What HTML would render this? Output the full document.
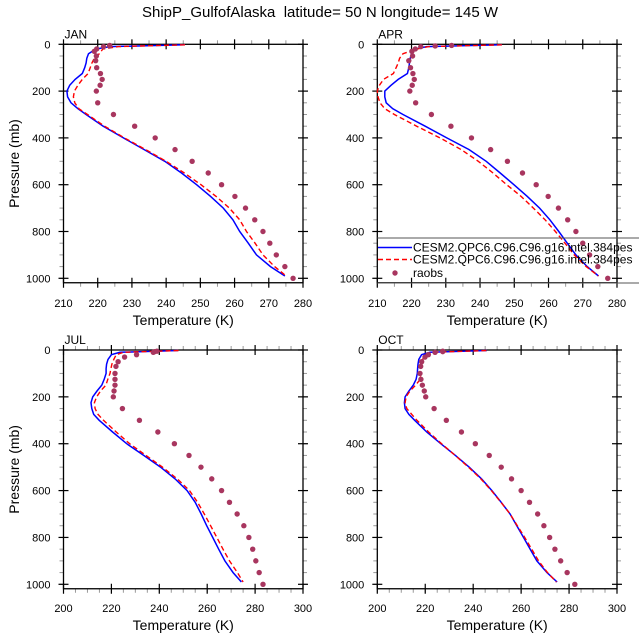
<!DOCTYPE html>
<html><head><meta charset="utf-8">
<style>
html,body{margin:0;padding:0;background:#fff;}
svg{display:block;font-family:"Liberation Sans",sans-serif;}
</style></head>
<body>
<svg id="chart" width="639" height="639" viewBox="0 0 639 639">
<text x="320" y="17" text-anchor="middle" font-size="15" style="white-space:pre">ShipP_GulfofAlaska  latitude= 50 N longitude= 145 W</text>
</svg>
<script>
const modelLevels = [2,10,20,40,60,80,100,125,150,175,200,225,250,275,300,350,400,450,500,550,600,650,700,750,800,850,900,950,990];
const rawLevels = [5,7,10,20,30,50,70,100,125,150,175,200,250,300,350,400,450,500,550,600,650,700,750,800,850,900,950,1000];

const janModelA = [245.5,223.6,219.5,217.3,216.8,216.6,216.2,215.5,213.4,211.8,211,211.2,212.2,214.2,216.6,221.6,227.5,233.6,239.6,244.5,248.9,253,256.7,259.5,261.5,264,266.4,270.5,274.7];
const janModelB = [245.5,226,221.5,220.5,219,218.3,217.8,217.2,215.5,214.2,213.2,212.9,213.3,214.5,217,222,227.8,234,240,245.3,250.2,254.6,258.5,261.5,263.5,266,268.3,271.7,275.1];
const janRaobs = [223.5,223.5,221.7,219.7,219,219.6,219.4,219.7,220.8,221.3,220.7,219.6,220,224.6,230.8,236.8,242.6,247.6,252.3,256.2,260.1,263.2,265.9,268.3,270.3,272.2,274.7,277.1];

const aprModelA = [246.4,224.4,221.2,220,219.6,219.4,219.2,218.8,216.1,214,212.2,212.2,212.6,214.5,217.5,224,230.3,236.8,241.8,245.9,249.9,253.8,257.4,260.4,263,265.5,268,271.3,274.6];
const aprModelB = [246.4,225,221.5,217.5,216.5,216.1,215.5,214.7,211.8,210.6,210,210.2,210.8,212.2,215,221.5,228.3,234.5,239.5,243.8,247.8,252,255.6,259,262,264.8,267.5,271,274.6];
const aprRaobs = [231.7,226.9,222.7,221.1,220.1,220.3,219.2,219.7,220.4,220.8,220.2,219.5,221.2,225.8,231.5,237.5,243.1,248,252.4,256.4,259.9,262.9,265.6,268,270,272,274.4,277.3];

const julModelA = [247.9,223.6,220,218.6,218,217.8,217.8,217,216,214,212.2,211.5,211.8,212.6,214.9,220.5,226.4,233.5,240.5,246.6,251.6,255,257.5,259.8,262.3,264.8,267.4,270.8,274.3];
const julModelB = [248,225,222,221,220.2,219.8,219.4,218.5,217.7,215.5,213.8,212.9,213.2,214.4,216.7,222,227.6,234.4,241.3,247.5,252.6,256,258.8,261.4,264,266.6,269.3,272.6,275];
const julRaobs = [239,238,237.5,230.5,225.5,222.8,221.9,221.5,221.5,221.5,221.1,220.8,224.6,231.7,239.4,246.3,252.4,257.4,261.9,266,269.3,272.5,275.3,277.4,279,280.3,281.7,283.3];

const octModelA = [245.7,222,218.5,217.3,217,216.8,216.7,216.2,215,213.2,211.6,211.3,211.6,213.2,215.6,220.6,226.5,232.6,238.3,243.5,247.8,251.7,255.4,258.2,261,263.8,266.6,270.8,275];
const octModelB = [245.5,223,219.5,219,218.6,218.3,218.1,217.9,216,213.6,212,211.6,212.3,214.4,216.5,221.4,226.8,232.5,238,243.2,247.6,251.6,255.4,258.4,261.5,264.4,267.3,271,274.7];
const octRaobs = [227.3,227.3,224.1,221.3,219.9,218.5,218.1,217.8,218.2,218.8,219.6,220.2,223.7,228.8,235.1,240.9,246.7,251.7,256,260,263.5,266.9,269.5,271.9,274.1,276.5,279.2,282.4];

const janXTicks = [210,220,230,240,250,260,270,280];
const julXTicks = [200,220,240,260,280,300];
const yTicks = [0,200,400,600,800,1000];

const NS = 'http://www.w3.org/2000/svg';
const svg = document.getElementById('chart');
function mk(tag, attrs, parent){
  const e = document.createElementNS(NS, tag);
  for (const k in attrs) e.setAttribute(k, attrs[k]);
  (parent||svg).appendChild(e);
  return e;
}

const panels = [
  {id:'jan', label:'JAN', x0:63.5, x1:303, y0:44.3, y1000:278.3, tmin:210, tmax:280, ticks:janXTicks, minor:5, a:janModelA, b:janModelB, r:janRaobs, xlab:303, xtitle:320},
  {id:'apr', label:'APR', x0:377.3, x1:617, y0:44.3, y1000:278.3, tmin:210, tmax:280, ticks:janXTicks, minor:5, a:aprModelA, b:aprModelB, r:aprRaobs, xlab:303, xtitle:320},
  {id:'jul', label:'JUL', x0:63.5, x1:303, y0:350, y1000:584.3, tmin:200, tmax:300, ticks:julXTicks, minor:5, a:julModelA, b:julModelB, r:julRaobs, xlab:608, xtitle:625},
  {id:'oct', label:'OCT', x0:377.3, x1:617, y0:350, y1000:584.3, tmin:200, tmax:300, ticks:julXTicks, minor:5, a:octModelA, b:octModelB, r:octRaobs, xlab:608, xtitle:625}
];

panels.forEach(P => {
  const g = mk('g', {});
  
  
  const xs = t => P.x0 + (t - P.tmin) / (P.tmax - P.tmin) * (P.x1 - P.x0);
  const ys = p => P.y0 + p / 1000 * (P.y1000 - P.y0);
  const yb = ys(1019);
  for (let t = P.tmin; t <= P.tmax; t += P.minor) {
    const x = xs(t);
    [[P.y0, -1],[yb, 1]].forEach(([y, d]) => {
      const m = mk('line', {x1:x, x2:x, y1:y, y2:y + d*4, stroke:'#999', 'stroke-width':1}, g);
      
      
    });
  }
  for (let p = 0; p <= 1000; p += 50) {
    const y = ys(p);
    [[P.x0, -1],[P.x1, 1]].forEach(([x, d]) => {
      const m = mk('line', {x1:x, x2:x + d*4, y1:y, y2:y, stroke:'#999', 'stroke-width':1}, g);
      
      
    });
  }
  P.ticks.forEach(t => {
    const x = xs(t);
    [[P.y0],[yb]].forEach(([y]) => {
      const m = mk('line', {x1:x, x2:x, y1:y - 5, y2:y + 5, stroke:'#000', 'stroke-width':1.2}, g);
      
      
    });
    const tl = mk('text', {x:x, y:P.xlab + 4, 'text-anchor':'middle', 'font-size':11}, g);
    tl.textContent = t;
    
    
  });
  yTicks.forEach(p => {
    const y = ys(p);
    [[P.x0],[P.x1]].forEach(([x]) => {
      const m = mk('line', {x1:x - 5, x2:x + 5, y1:y, y2:y, stroke:'#000', 'stroke-width':1.2}, g);
      
      
    });
    const tl = mk('text', {x:P.x0 - 13, y:y + 4, 'text-anchor':'end', 'font-size':11}, g);
    tl.textContent = p;
    
    
  });
  const fr = mk('rect', {x:P.x0, y:P.y0, width:P.x1 - P.x0, height:yb - P.y0, fill:'none', stroke:'#000', 'stroke-width':1.3}, g);
  
  
  const path = arr => modelLevels.map((p, i) => (i ? 'L' : 'M') + xs(arr[i]).toFixed(1) + ',' + ys(p).toFixed(1)).join('');
  const la = mk('path', {d:path(P.a), fill:'none', stroke:'#0000ff', 'stroke-width':1.5}, g);
  
  
  const lb = mk('path', {d:path(P.b), fill:'none', stroke:'#ff0000', 'stroke-width':1.4, 'stroke-dasharray':'5,3'}, g);
  
  
  rawLevels.forEach((p, i) => {
    const c = mk('circle', {cx:xs(P.r[i]), cy:ys(p), r:2.7, fill:'#a8365f'}, g);
    
    
  });
  const lab = mk('text', {x:P.x0 + 1, y:P.y0 - 6, 'font-size':12}, g);
  lab.textContent = P.label;
  
  
  const xt = mk('text', {x:(P.x0 + P.x1) / 2, y:P.xtitle + 5, 'text-anchor':'middle', 'font-size':14}, g);
  xt.textContent = 'Temperature (K)';
  
  
  if (P.x0 < 100) {
    const cy = (P.y0 + yb) / 2;
    const yt = mk('text', {x:14, y:cy, 'text-anchor':'middle', 'font-size':14, transform:'rotate(-90 14 ' + cy + ') translate(0 5)'}, g);
    yt.textContent = 'Pressure (mb)';
    
    
  }
});

const lg = mk('g', {});


const lbg = mk('rect', {x:377.3, y:238, width:262, height:45, fill:'#fff', 'fill-opacity':0}, lg);


[238, 283].forEach(y => {
  const l = mk('line', {x1:377.3, x2:639, y1:y, y2:y, stroke:'#555', 'stroke-width':1}, lg);
  
  
});
const e1 = mk('line', {x1:378, x2:412, y1:247.5, y2:247.5, stroke:'#0000ff', 'stroke-width':1.5}, lg);


const e2 = mk('line', {x1:378, x2:412, y1:259.5, y2:259.5, stroke:'#ff0000', 'stroke-width':1.4, 'stroke-dasharray':'5,3'}, lg);


const e3 = mk('circle', {cx:395, cy:273, r:2.7, fill:'#a8365f'}, lg);


[['CESM2.QPC6.C96.C96.g16.intel.384pes', 251.5, 'legend-model-a-label'], ['CESM2.QPC6.C96.C96.g16.intel.384pes', 263.5, 'legend-model-b-label'], ['raobs', 277, 'legend-raobs-label']].forEach(([t, y, n]) => {
  const tx = mk('text', {x:413, y:y, 'font-size':12}, lg);
  tx.textContent = t;
  
  
});
</script>
</body></html>
